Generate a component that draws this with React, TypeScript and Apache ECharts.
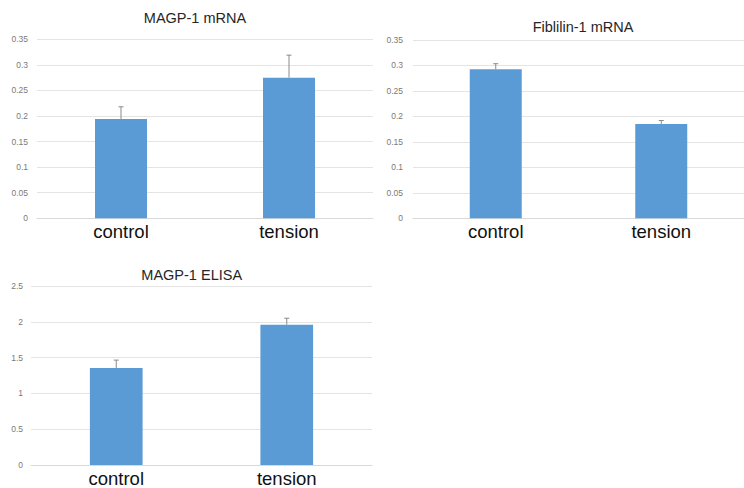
import React, { useEffect, useRef } from "react";
import * as echarts from "echarts";

const categories = ["control", "tension"];
const magpMrnaValues = [0.194, 0.275];
const magpMrnaErrors = [0.024, 0.044];
const fibMrnaValues = [0.2925, 0.185];
const fibMrnaErrors = [0.011, 0.007];
const magpElisaValues = [1.355, 1.96];
const magpElisaErrors = [0.11, 0.09];

const titles = ["MAGP-1 mRNA", "Fiblilin-1 mRNA", "MAGP-1 ELISA"];
const mrnaTicks = { min: 0, max: 0.35, interval: 0.05 };
const elisaTicks = { min: 0, max: 2.5, interval: 0.5 };

const BAR = "#5B9BD5";
const GRID = "#e4e4e4";
const TICK = "#7a7a7a";

function errorRender(params: any, api: any) {
  const x = api.value(0);
  const v = api.value(1);
  const top = api.value(2);
  const p0 = api.coord([x, v]);
  const p1 = api.coord([x, top]);
  const style = { stroke: "#8a8a8a", lineWidth: 1 };
  return {
    type: "group",
    children: [
      { type: "line", shape: { x1: p0[0], y1: p0[1], x2: p1[0], y2: p1[1] }, style },
      { type: "line", shape: { x1: p1[0] - 2.5, y1: p1[1], x2: p1[0] + 2.5, y2: p1[1] }, style },
    ],
  };
}

export default function App() {
  const ref = useRef<HTMLDivElement>(null);
  useEffect(() => {
    if (!ref.current) return;
    const chart = echarts.init(ref.current, undefined, { renderer: "svg" });
    const grids = [
      { left: 37, top: 39.3, width: 336, height: 179 },
      { left: 413, top: 40, width: 338, height: 178.3 },
      { left: 31, top: 286, width: 341, height: 179 },
    ];
    const labelMargins = [4, 4, 3.5];
    const yMargins = [9, 10, 8];
    const ticks = [mrnaTicks, mrnaTicks, elisaTicks];
    const values = [magpMrnaValues, fibMrnaValues, magpElisaValues];
    const errors = [magpMrnaErrors, fibMrnaErrors, magpElisaErrors];
    const barWidths = [52, 52, 52.7];
    const titlePos = [
      [195, 18],
      [583, 26.5],
      [191.7, 275],
    ];

    const series: any[] = [];
    values.forEach((vals, i) => {
      series.push({
        type: "bar",
        xAxisIndex: i,
        yAxisIndex: i,
        data: vals,
        barWidth: barWidths[i],
        itemStyle: { color: BAR },
        z: 2,
      });
      series.push({
        type: "custom",
        xAxisIndex: i,
        yAxisIndex: i,
        renderItem: errorRender,
        data: vals.map((v, j) => [j, v, v + errors[i][j]]),
        z: 3,
      });
    });

    chart.setOption({
      animation: false,
      backgroundColor: "#ffffff",
      grid: grids,
      xAxis: grids.map((_, i) => ({
        type: "category",
        gridIndex: i,
        data: categories,
        axisTick: { show: false },
        axisLine: { lineStyle: { color: "#d9d9d9", width: 1 } },
        axisLabel: {
          color: "#111111",
          fontSize: 18.5,
          fontFamily: "Liberation Sans, Arial, sans-serif",
          margin: labelMargins[i],
        },
      })),
      yAxis: grids.map((_, i) => ({
        type: "value",
        gridIndex: i,
        min: ticks[i].min,
        max: ticks[i].max,
        interval: ticks[i].interval,
        axisLine: { show: false },
        axisTick: { show: false },
        splitLine: { lineStyle: { color: GRID, width: 1 } },
        axisLabel: {
          color: TICK,
          fontSize: 8.5,
          fontFamily: "Liberation Sans, Arial, sans-serif",
          margin: yMargins[i],
        },
      })),
      graphic: titles.map((t, i) => ({
        type: "text",
        x: titlePos[i][0],
        y: titlePos[i][1],
        style: {
          text: t,
          fill: "#262626",
          font: "14.5px 'Liberation Sans', Arial, sans-serif",
          textAlign: "center",
          textVerticalAlign: "middle",
        },
      })),
      series,
    });
    return () => chart.dispose();
  }, []);
  return (
    <div
      ref={ref}
      style={{ position: "fixed", left: 0, top: 0, width: 744, height: 488, background: "#fff" }}
    />
  );
}
